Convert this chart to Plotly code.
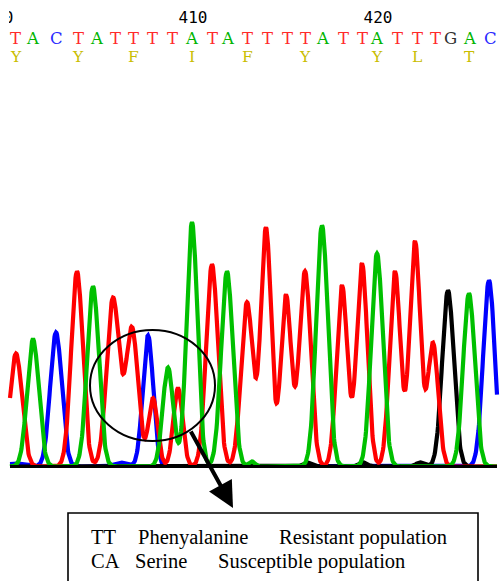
import numpy as np
import plotly.graph_objects as go

W, H = 501, 581

# ---- Data (peak centre, height, width) ----
red_centers = [16, 77, 113, 132, 153, 178, 212, 247, 266, 286, 305, 342, 362, 395, 415, 433]
red_heights = [113, 195, 168, 138, 68, 78, 202, 164, 238, 171, 195, 181, 203, 195, 225, 123]
red_widths = [6, 5.8, 6.3, 6.0, 4.6, 4.6, 5.8, 5.9, 5.2, 5.2, 5.7, 5.4, 5.4, 5.4, 5.4, 5.2]

green_centers = [33, 93, 168, 192, 227, 252, 322, 377, 469]
green_heights = [127, 180, 99, 244, 195, 5, 241, 213, 173]
green_widths = [5.8, 5.8, 5.2, 5.4, 5.8, 3, 5.8, 5.8, 5.8]

blue_centers = [15, 56, 120, 148, 489]
blue_heights = [3, 134, 4, 131, 186]
blue_widths = [8, 5.8, 6, 5.2, 5.8]

black_centers = [307, 363, 420, 448]
black_heights = [4, 4, 4, 176]
black_widths = [4, 4, 4, 5.8]

# ---- Sequence text ----
bases = list("TACTATTTTATATTTTATTATTTGAC")
base_pos = [16, 33, 56, 78, 97, 115, 133, 152, 172, 192, 212, 228, 247,
            267, 287, 305, 323, 343, 362, 377, 397, 417, 435, 450, 470, 490]
amino = ["Y", "Y", "F", "I", "F", "Y", "Y", "L", "T"]
amino_pos = [16, 78, 133, 192, 247, 305, 377, 417, 469]
tick_labels = ["400", "410", "420"]
tick_pos = [-1, 193, 378]

legend_rows = [["TT", "Phenyalanine", "Resistant population"],
               ["CA", "Serine", "Susceptible population"]]

base_colors = {"T": "#ff2a2a", "A": "#00b400", "C": "#2a2aff", "G": "#303030"}

BASE_PX = 466.5  # pixel row of baseline


def trace_curve(xs, centers, heights, widths):
    y = np.zeros_like(xs)
    for c, h, s in zip(centers, heights, widths):
        y += h * np.exp(-((xs - c) ** 2) / (2 * s * s))
    return y


xs = np.arange(10, 497.01, 0.5)

fig = go.Figure()
channels = [
    ("C", blue_centers, blue_heights, blue_widths, "#0000ff"),
    ("G", black_centers, black_heights, black_widths, "#000000"),
    ("T", red_centers, red_heights, red_widths, "#ff0000"),
    ("A", green_centers, green_heights, green_widths, "#00c000"),
]
for name, c, h, w, col in channels:
    fig.add_trace(go.Scatter(x=xs, y=trace_curve(xs, c, h, w), mode="lines",
                             line=dict(color=col, width=4.2, shape="linear"),
                             name=name, hoverinfo="skip", showlegend=False))

# ruler numbers, clipped at the left edge of the trace panel (x2/y2 = pixel frame)
fig.add_trace(go.Scatter(x=tick_pos, y=[19] * len(tick_pos), mode="text",
                         text=tick_labels, textposition="middle center",
                         textfont=dict(family="DejaVu Sans Mono", size=16, color="#000000"),
                         xaxis="x2", yaxis="y2", cliponaxis=True,
                         hoverinfo="skip", showlegend=False))


def px(x):
    return x / W


def py(y):
    return 1 - y / H


annotations = []
for b, p in zip(bases, base_pos):
    annotations.append(dict(x=px(p), y=py(38), xref="paper", yref="paper",
                            text=b, showarrow=False, borderpad=0,
                            font=dict(family="DejaVu Serif", size=16.5, color=base_colors[b]),
                            xanchor="center", yanchor="middle"))
for a, p in zip(amino, amino_pos):
    annotations.append(dict(x=px(p), y=py(57), xref="paper", yref="paper",
                            text=a, showarrow=False, borderpad=0,
                            font=dict(family="DejaVu Serif", size=15.5, color="#c9bd00"),
                            xanchor="center", yanchor="middle"))

col_x = [[90, 137, 278], [90, 134, 217]]
row_y = [537, 561]
for r, row in enumerate(legend_rows):
    for c, t in enumerate(row):
        annotations.append(dict(x=px(col_x[r][c]), y=py(row_y[r]), xref="paper", yref="paper",
                                text=t, showarrow=False, borderpad=0,
                                font=dict(family="Liberation Serif", size=20.5, color="#000000"),
                                xanchor="left", yanchor="middle"))

# arrow from the circle to the box
annotations.append(dict(x=px(233), y=py(508), xref="paper", yref="paper",
                        ax=190 - 233, ay=430 - 508, text="", showarrow=True,
                        arrowhead=2, arrowsize=1.3, arrowwidth=4, arrowcolor="#000000",
                        standoff=0, startstandoff=0))

shapes = [
    # baseline
    dict(type="line", xref="paper", yref="paper", x0=px(10), x1=px(497),
         y0=py(BASE_PX), y1=py(BASE_PX), line=dict(color="#000000", width=3), layer="above"),
    # circle
    dict(type="circle", xref="paper", yref="paper", x0=px(90), x1=px(215),
         y0=py(441), y1=py(330), line=dict(color="#000000", width=2), layer="above"),
    # legend box
    dict(type="rect", xref="paper", yref="paper", x0=px(68), x1=px(478),
         y0=py(513), y1=-0.05, line=dict(color="#000000", width=1.6),
         fillcolor="rgba(0,0,0,0)", layer="above"),
]

fig.update_layout(
    width=W, height=H,
    margin=dict(l=0, r=0, t=0, b=0, pad=0),
    paper_bgcolor="#ffffff", plot_bgcolor="rgba(0,0,0,0)",
    xaxis=dict(range=[0, W], domain=[0, 1], visible=False, fixedrange=True),
    yaxis=dict(range=[0, 250], domain=[(H - BASE_PX) / H, (H - BASE_PX + 250) / H],
               visible=False, fixedrange=True),
    xaxis2=dict(range=[9, 497], domain=[9 / W, 497 / W], visible=False, fixedrange=True,
                anchor="y2"),
    yaxis2=dict(range=[H, 0], domain=[0, 1], visible=False, fixedrange=True,
                anchor="x2"),
    annotations=annotations, shapes=shapes, showlegend=False,
)

fig.write_html("out.html", config=dict(displayModeBar=False, staticPlot=True),
               post_script="document.body.style.margin='0px';document.body.style.padding='0px';")
